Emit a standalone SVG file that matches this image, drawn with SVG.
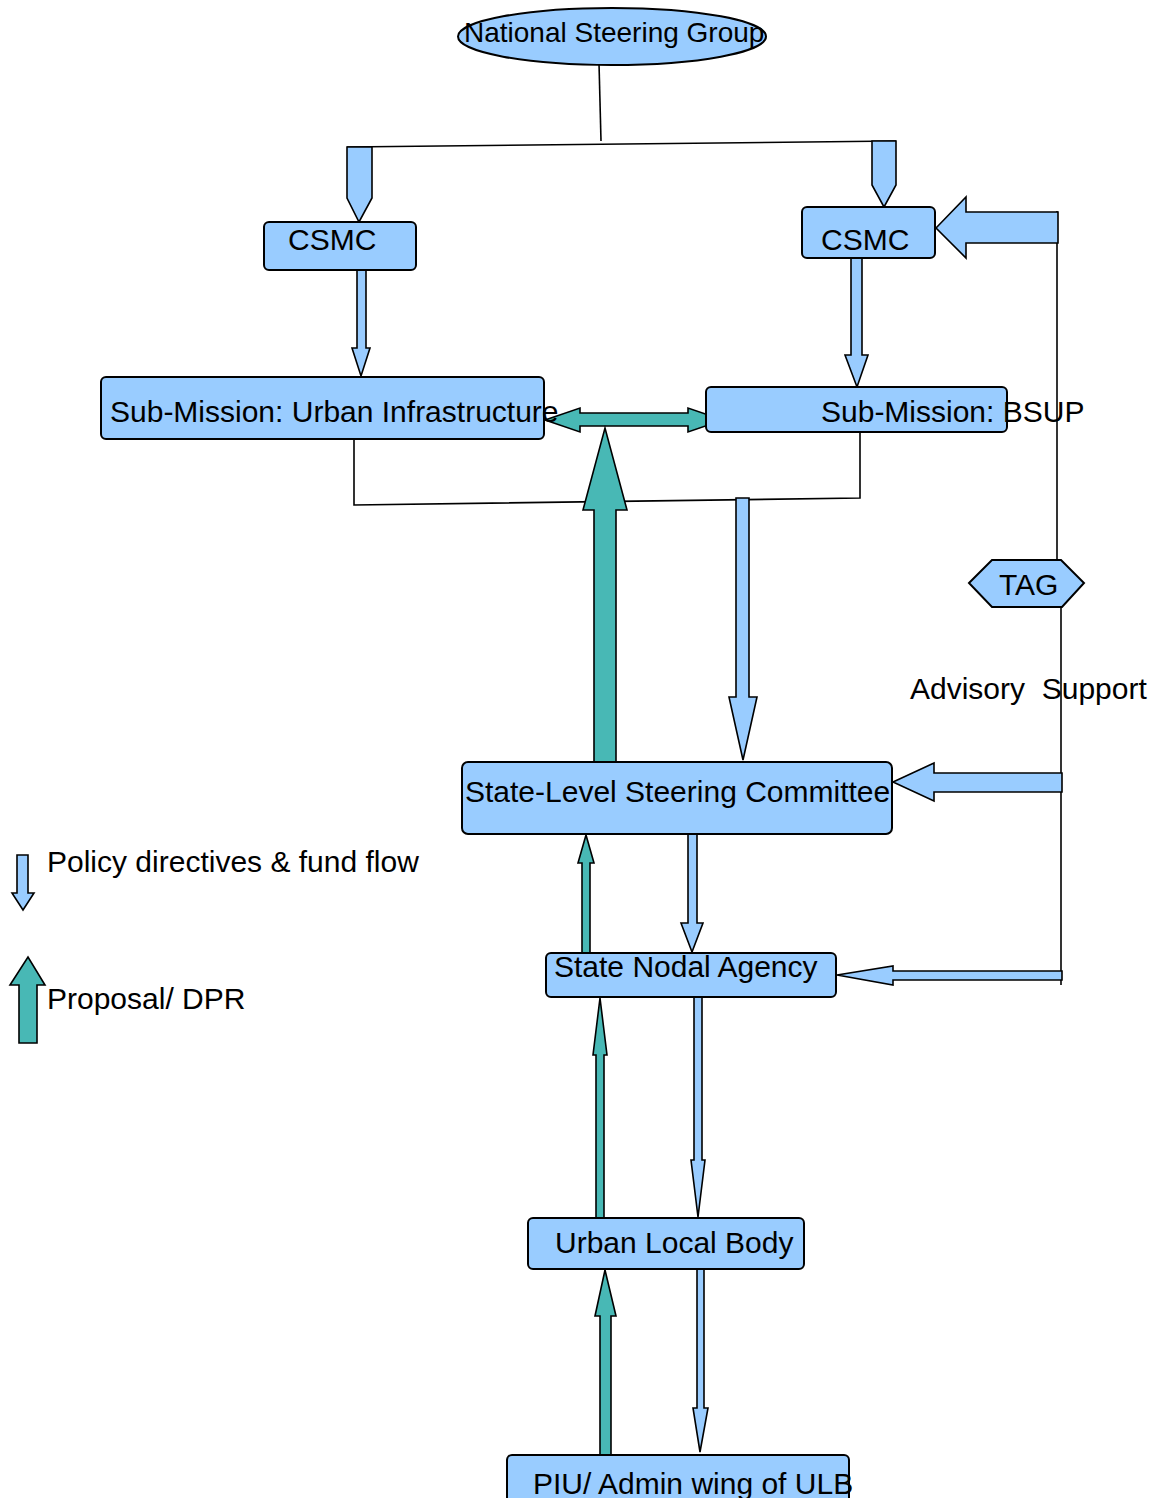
<svg xmlns="http://www.w3.org/2000/svg" width="1152" height="1498" viewBox="0 0 1152 1498">
<style>
  .box { fill: #99ccff; stroke: #000; stroke-width: 2; }
  .blue { fill: #99ccff; stroke: #000; stroke-width: 1.6; stroke-linejoin: miter; }
  .teal { fill: #48b8b5; stroke: #000; stroke-width: 1.6; stroke-linejoin: miter; }
  .line { fill: none; stroke: #000; stroke-width: 1.6; }
  text { font-family: "Liberation Sans", Arial, sans-serif; font-size: 30px; fill: #000; white-space: pre; }
</style>
<rect width="1152" height="1498" fill="#fff"/>

<g id="connectors">
  <polyline class="line" points="599,63 601,141"/>
  <polyline class="line" points="347,147 896,141"/>
  <polyline class="line" points="354,439 354,505 860,498 860,432"/>
  <polyline class="line" points="1057,211 1057,560"/>
  <polyline class="line" points="1061,607 1061,985"/>
  <polygon class="blue" points="347,147 372,147 372,198 359,222 347,198"/>
  <polygon class="blue" points="872,141 896,141 896,185 884,207 872,185"/>
  <polygon class="blue" points="357,270 366,270 366,348 370,348 361,376 352,348 357,348"/>
  <polygon class="blue" points="851,258 862,258 862,355 868,355 857,387 845,355 851,355"/>
  <polygon class="teal" points="545,420 580,408 580,413 688,413 688,408 723,420 688,432 688,426 580,426 580,432"/>
  <polygon class="teal" points="594,762 594,510 583,510 605,428 627,510 616,510 616,762"/>
  <polygon class="blue" points="736,498 749,498 749,697 757,697 743,760 729,697 736,697"/>
  <polygon class="blue" points="936,228 966,197 966,212 1058,212 1058,243 966,243 966,258"/>
  <polygon class="blue" points="893,782 934,763 934,773 1062,773 1062,792 934,792 934,801"/>
  <polygon class="blue" points="837,975 893,966 893,971 1062,971 1062,980 893,980 893,985"/>
  <polygon class="teal" points="582,953 582,863 578,863 586,835 594,863 590,863 590,953"/>
  <polygon class="blue" points="688,834 697,834 697,923 703,923 692,952 681,923 688,923"/>
  <polygon class="teal" points="596,1218 596,1055 593,1055 600,998 607,1055 604,1055 604,1218"/>
  <polygon class="blue" points="694,997 702,997 702,1160 705,1160 698,1217 691,1160 694,1160"/>
  <polygon class="teal" points="600,1455 600,1316 595,1316 605,1270 616,1316 611,1316 611,1455"/>
  <polygon class="blue" points="697,1269 704,1269 704,1408 708,1408 700,1452 693,1408 697,1408"/>
</g>

<g id="nsg">
  <ellipse class="box" cx="612" cy="36.5" rx="154" ry="28.5"/>
  <text x="464" y="42" style="font-size:28px">National Steering Group</text>
</g>
<g id="csmc-left">
  <rect class="box" x="264" y="222" width="152" height="48" rx="5"/>
  <text x="288" y="250">CSMC</text>
</g>
<g id="csmc-right">
  <rect class="box" x="802" y="207" width="133" height="51" rx="5"/>
  <text x="821" y="250">CSMC</text>
</g>
<g id="sm-ui">
  <rect class="box" x="101" y="377" width="443" height="62" rx="5"/>
  <text x="110" y="422">Sub-Mission: Urban Infrastructure</text>
</g>
<g id="sm-bsup">
  <rect class="box" x="706" y="387" width="301" height="45" rx="5"/>
  <text x="821" y="422">Sub-Mission: BSUP</text>
</g>
<g id="tag">
  <polygon class="box" points="969,583 992,560 1061,560 1084,583 1062,607 992,607"/>
  <text x="999" y="595">TAG</text>
</g>
<g id="advisory">
  <text x="910" y="699">Advisory  Support</text>
</g>
<g id="slsc">
  <rect class="box" x="462" y="762" width="430" height="72" rx="6"/>
  <text x="465" y="802">State-Level Steering Committee</text>
</g>
<g id="sna">
  <rect class="box" x="546" y="953" width="290" height="44" rx="5"/>
  <text x="554" y="977">State Nodal Agency</text>
</g>
<g id="ulb">
  <rect class="box" x="528" y="1218" width="276" height="51" rx="5"/>
  <text x="555" y="1253">Urban Local Body</text>
</g>
<g id="piu">
  <rect class="box" x="507" y="1455" width="342" height="60" rx="5"/>
  <text x="533" y="1494">PIU/ Admin wing of ULB</text>
</g>
<g id="legend">
  <polygon class="blue" points="17,855 28,855 28,893 34,893 23,910 12,893 17,893"/>
  <text x="47" y="872">Policy directives &amp; fund flow</text>
  <polygon class="teal" points="19,1043 19,985 10,985 28,957 45,985 37,985 37,1043"/>
  <text x="47" y="1009">Proposal/ DPR</text>
</g>
</svg>
